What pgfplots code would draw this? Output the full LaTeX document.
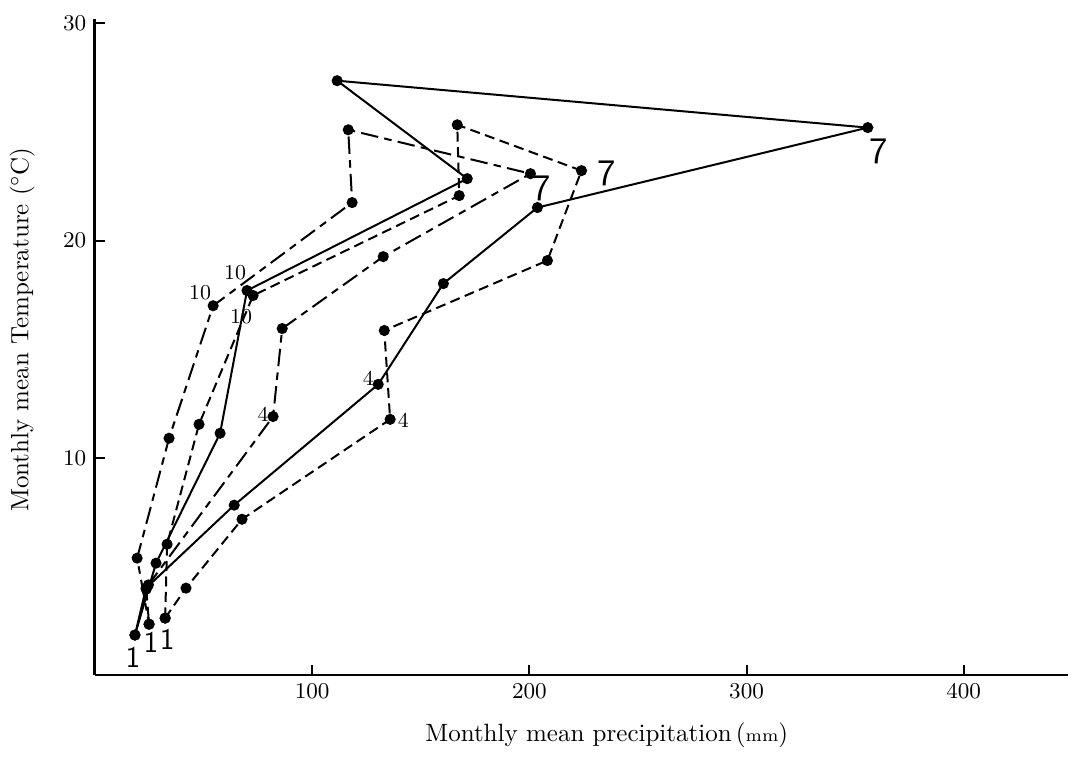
\documentclass[border=0pt]{standalone}
\usepackage{pgfplots}
\pgfplotsset{compat=1.18}

\begin{document}
\begin{tikzpicture}
% 2.5 px of the reference per pt
\useasboundingbox (-38pt,-33.6pt) rectangle (390.8pt,270pt);
\begin{axis}[
	at={(0,0)}, anchor=south west,
	width=389.2pt, height=262.4pt, scale only axis,
	xmin=0, xmax=448, ymin=0, ymax=30.2,
	axis x line=bottom, axis y line=left,
	x axis line style={-, line width=0.8pt},
	y axis line style={-, line width=1.2pt},
	xtick={100,200,300,400}, ytick={10,20,30},
	tick align=inside, major tick length=4pt,
	tick style={black, line width=0.8pt},
	tick label style={font=\fontsize{9}{10}\selectfont},
	xlabel={Monthly mean precipitation\,({\scriptsize mm})},
	ylabel={Monthly mean Temperature ($^{\circ}$\kern-0.5pt C)},
	xlabel style={at={(axis description cs:0.526,-0.0915)}, anchor=center, font=\fontsize{10}{12}\selectfont},
	ylabel style={at={(axis description cs:-0.075,0.526)}, anchor=center, rotate=0, font=\fontsize{10}{12}\selectfont},
	every axis plot/.append style={black, line width=0.8pt, mark=*, mark size=1.8pt,
		mark options={solid, fill=black}},
	clip=false,
]
% solid
\addplot[black, solid] coordinates {
	(18.4,1.84) (23.5,4.0) (64.1,7.82) (130.4,13.38) (160.4,18.02) (203.7,21.52)
	(355.8,25.2) (111.5,27.36) (171.4,22.85) (70.0,17.7) (57.6,11.13) (28.1,5.15) (18.4,1.84)};
% dashed
\addplot[black, dash pattern=on 4pt off 2.2pt] coordinates {
	(32.3,2.62) (41.9,4.0) (67.7,7.17) (135.9,11.77) (133.2,15.86) (208.3,19.08)
	(224.0,23.22) (166.8,25.33) (167.7,22.07) (72.8,17.47) (47.9,11.54) (33.2,6.02) (32.3,2.62)};
% dash-dot
\addplot[black, dash pattern=on 7pt off 2.5pt on 3pt off 2.5pt] coordinates {
	(24.9,2.34) (23.6,3.95) (24.6,4.15) (82.0,11.9) (86.2,15.95) (132.7,19.26)
	(200.5,23.08) (116.6,25.1) (118.4,21.75) (54.4,17.0) (34.1,10.9) (19.4,5.38) (24.9,2.34)};

\begin{scope}[font=\fontsize{8.5}{9}\selectfont]
\node at (axis cs:64.5,18.5) {10};
\node at (axis cs:48.4,17.6) {10};
\node at (axis cs:67.3,16.5) {10};
\node at (axis cs:77.4,12.0) {4};
\node at (axis cs:125.8,13.65) {4};
\node at (axis cs:142.0,11.72) {4};
\end{scope}
\begin{scope}[font=\sffamily\fontsize{15}{15}\selectfont]
\node at (axis cs:205.5,22.4) {7};
\node at (axis cs:235.5,23.1) {7};
\node at (axis cs:360.8,24.1) {7};
\end{scope}
\begin{scope}[font=\sffamily\fontsize{12}{12}\selectfont]
\node at (axis cs:17.5,0.8) {1};
\node at (axis cs:25.8,1.5) {1};
\node at (axis cs:33.2,1.65) {1};
\end{scope}
\end{axis}
\end{tikzpicture}
\end{document}
